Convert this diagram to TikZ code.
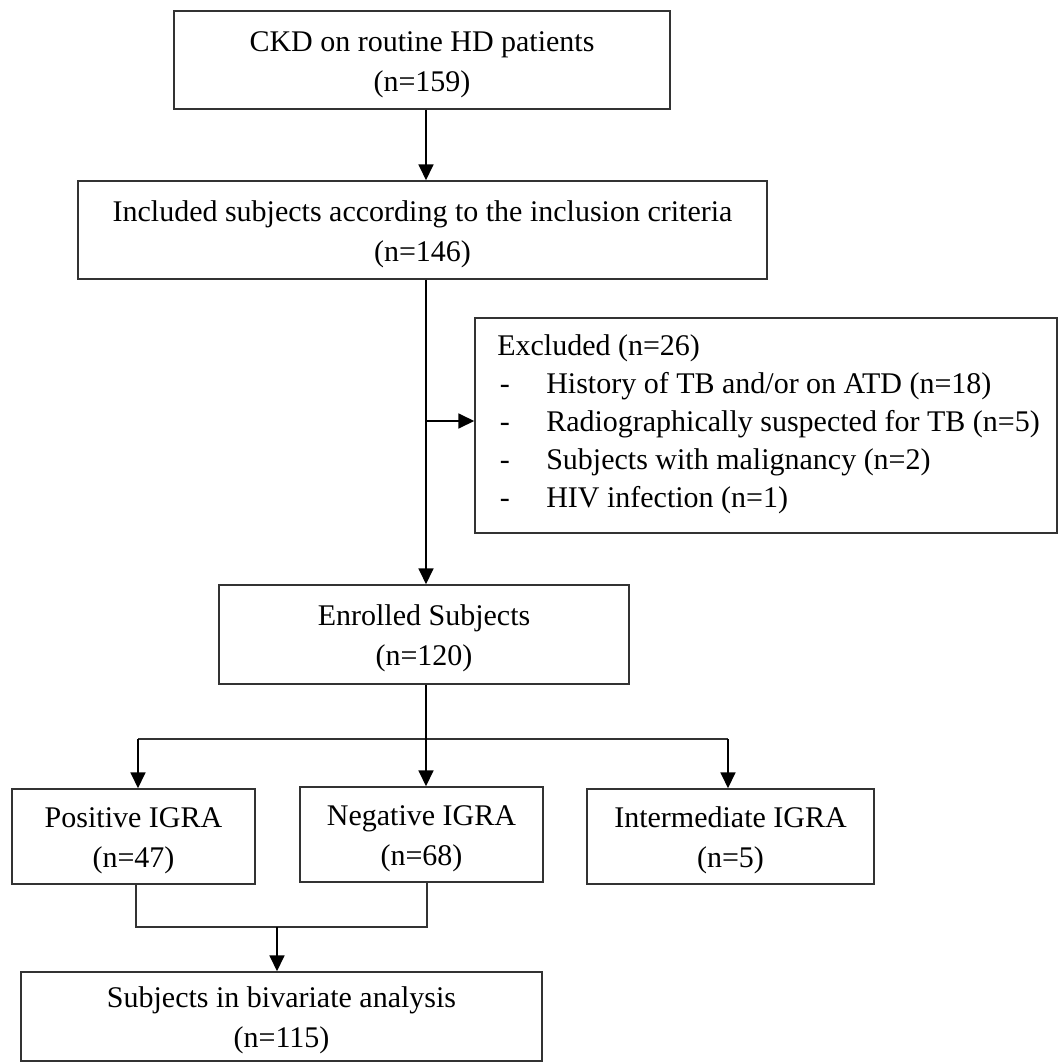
\documentclass[tikz,border=0pt]{standalone}
\usepackage{fontspec}
\setmainfont{Liberation Serif}
\usetikzlibrary{arrows.meta}
\newcommand{\topstrut}{\rule{0pt}{22pt}}
\newcommand{\exitem}[1]{\makebox[36.75pt][l]{\hspace{2pt}-}#1}
\begin{document}
\begin{tikzpicture}[x=0.75pt,y=-0.75pt,
  box/.style={draw=black!80, line width=1pt, inner sep=0pt, align=center,
    minimum height=71.25pt, font=\fontsize{22.5}{30}\selectfont},
  tharrow/.style={line width=2pt, -{Triangle[length=12pt,width=11pt]}},
  thinline/.style={line width=1pt, draw=black!80}]
\useasboundingbox (0,0) rectangle (1059,1063);
% boxes
\node[box, minimum width=372pt, minimum height=73.5pt] (b1) at (422,60)
  {\topstrut CKD on routine HD patients\\(n=159)};
\node[box, minimum width=516.75pt, minimum height=73.5pt] (b2) at (422.5,230)
  {\topstrut Included subjects according to the inclusion criteria\\(n=146)};
\node[box, minimum width=436.5pt, minimum height=161.25pt] (excl) at (766,425.5) {};
\node[anchor=north west, inner sep=0pt, align=left,
  font=\fontsize{22.5}{28.5}\selectfont] (excltext) at (497,334)
  {Excluded (n=26)\\
   \exitem{History of TB and/or on ATD (n=18)}\\
   \exitem{Radiographically suspected for TB (n=5)}\\
   \exitem{Subjects with malignancy (n=2)}\\
   \exitem{HIV infection (n=1)}};
\node[box, minimum width=307.5pt, minimum height=74.25pt] (enr) at (424,634.5)
  {\topstrut Enrolled Subjects\\(n=120)};
\node[box, minimum width=182.25pt] (pos) at (133.5,836.5)
  {\topstrut Positive IGRA\\(n=47)};
\node[box, minimum width=182.25pt] (neg) at (421.5,834.5)
  {\topstrut Negative IGRA\\(n=68)};
\node[box, minimum width=215.25pt] (int) at (730.5,836.5)
  {\topstrut Intermediate IGRA\\(n=5)};
\node[box, minimum width=390.75pt, minimum height=66.75pt] (fin) at (281.5,1016.5)
  {\topstrut Subjects in bivariate analysis\\(n=115)};
% helper coordinates
\coordinate (sp) at (426,0);
\coordinate (br) at (426,421);
\coordinate (dl) at (138,739);
\coordinate (dr) at (728,739);
\coordinate (jl) at (136,927);
\coordinate (jr) at (427,927);
\coordinate (jm) at (277,927);
% connectors
\draw[tharrow] (b1.south -| sp) -- (b2.north -| sp);
\draw[tharrow] (b2.south -| sp) -- (enr.north -| sp);
\draw[tharrow] (br) -- (br -| excl.west);
\draw[thinline] (dl) -- (dr);
\draw[tharrow] (enr.south -| sp) -- (neg.north -| sp);
\draw[tharrow] (dl) -- (dl |- pos.north);
\draw[tharrow] (dr) -- (dr |- int.north);
\draw[thinline] (pos.south -| jl) -- (jl) -- (jr) -- (neg.south -| jr);
\draw[tharrow] (jm) -- (jm |- fin.north);
\end{tikzpicture}
\end{document}
